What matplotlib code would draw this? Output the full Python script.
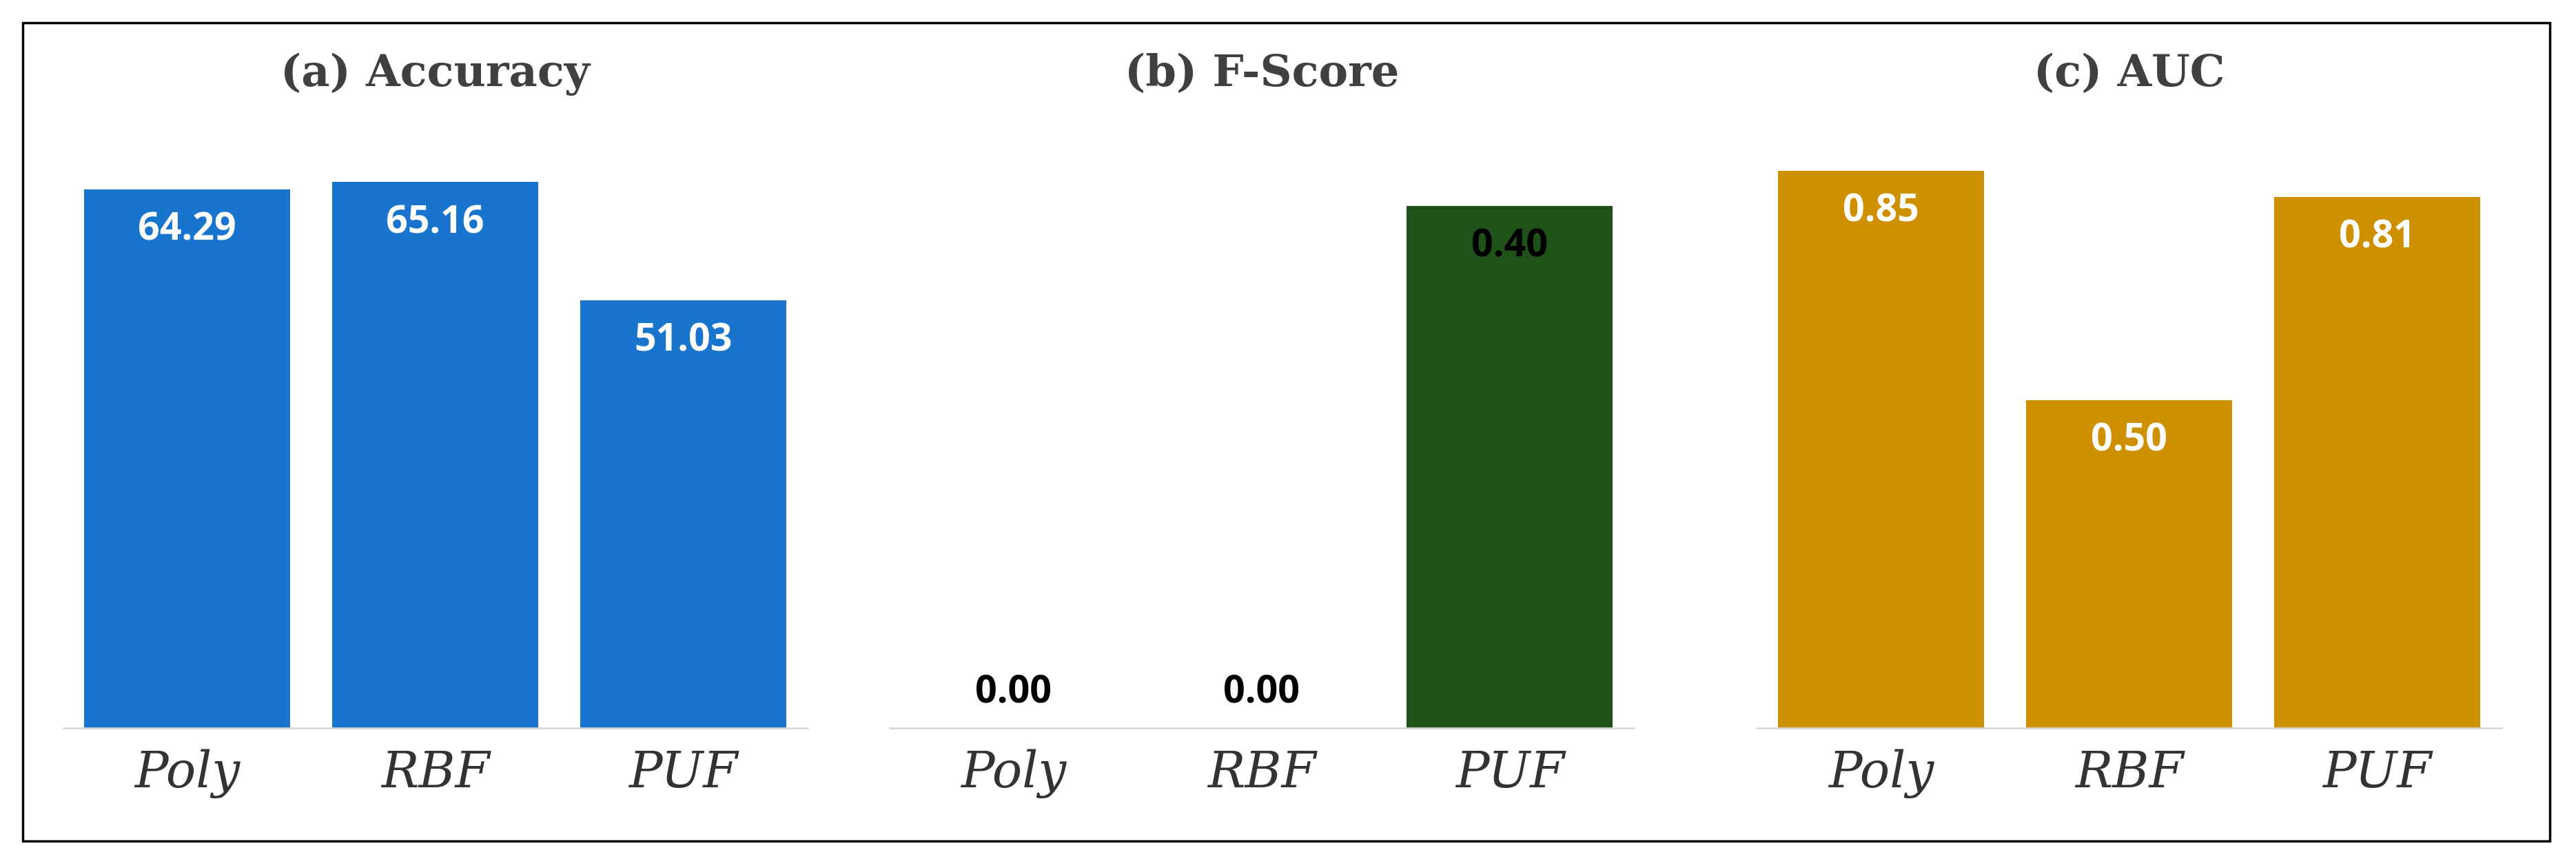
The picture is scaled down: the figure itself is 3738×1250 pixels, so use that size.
import matplotlib
matplotlib.use("Agg")
import matplotlib.pyplot as plt
from matplotlib.patches import Rectangle

categories = ["Poly", "RBF", "PUF"]
accuracy = [64.29, 65.16, 51.03]
fscore = [0.00, 0.00, 0.40]
auc = [0.85, 0.50, 0.81]
titles = ["(a) Accuracy", "(b) F-Score", "(c) AUC"]
labels_acc = ["64.29", "65.16", "51.03"]
labels_f = ["0.00", "0.00", "0.40"]
labels_auc = ["0.85", "0.50", "0.81"]

W, H = 1568, 524
fig = plt.figure(figsize=(37.38, 12.5), dpi=100)
fig.patches.append(Rectangle((14/W, 1-512/H), (1552-14)/W, (512-14)/H, transform=fig.transFigure,
                             fill=False, edgecolor="black", linewidth=2.5))

panels = [
    (accuracy, labels_acc, "#1874CD", 75.1, 38.5, "white"),
    (fscore, labels_f, "#1F5218", 0.482, 541.5, None),
    (auc, labels_auc, "#CF9000", 0.96, 1069.5, "white"),
]
bottom = 1-443/H
height = (443-60)/H
for i, (vals, labs, col, ymax, left, tc) in enumerate(panels):
    ax = fig.add_axes([left/W, bottom, 453/W, height])
    x = list(range(len(categories)))
    ax.bar(x, vals, width=0.83, color=col)
    ax.set_xlim(-0.5, 2.5)
    ax.set_ylim(0, ymax)
    for s in ["top", "right", "left"]:
        ax.spines[s].set_visible(False)
    ax.spines["bottom"].set_color("#d9d9d9")
    ax.spines["bottom"].set_linewidth(2)
    ax.set_yticks([])
    ax.set_xticks(x)
    ax.set_xticklabels(categories, fontfamily="DejaVu Serif", fontstyle="italic", fontsize=52, color="#333333")
    ax.tick_params(axis="x", length=0, pad=22)
    for xi, v, l in zip(x, vals, labs):
        if v > 0.05 * ymax:
            ax.text(xi, v - 0.035*ymax, l, ha="center", va="top", color=tc,
                    fontsize=40, fontweight="bold", fontfamily="Open Sans")
        else:
            ax.text(xi, v + 0.025*ymax, l, ha="center", va="bottom", color="black",
                    fontsize=40, fontweight="bold", fontfamily="Open Sans")
    fig.text((left + 226.5)/W, 1-45/H, titles[i], ha="center", va="center",
             fontsize=46, fontweight="bold", fontfamily="DejaVu Serif", color="#404040")

fig.savefig("out.png", dpi=100, facecolor="white")
